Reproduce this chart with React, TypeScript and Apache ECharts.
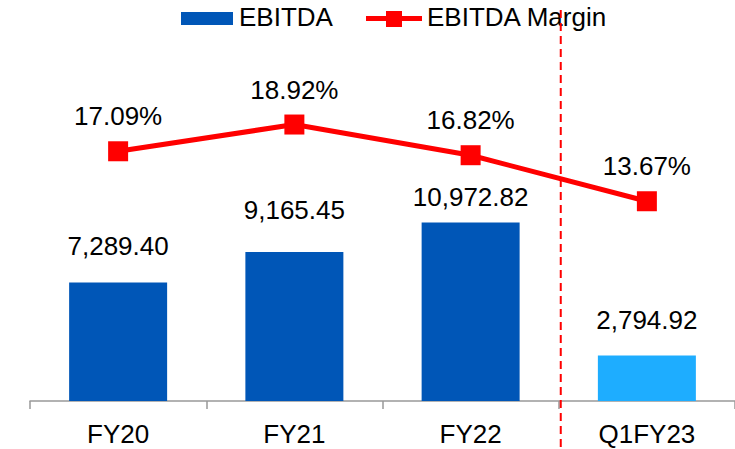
import React, { useEffect, useRef } from "react";
import * as echarts from "echarts";

const categories = ["FY20", "FY21", "FY22", "Q1FY23"];
const ebitda = [7289.4, 9165.45, 10972.82, 2794.92];
const ebitdaMargin = [17.09, 18.92, 16.82, 13.67];
const legendNames = ["EBITDA", "EBITDA Margin"];

const DARK_BLUE = "#0056B7";
const LIGHT_BLUE = "#1EADFF";
const RED = "#FF0000";
const FONT = "'Liberation Sans', Arial, sans-serif";

export default function App() {
  const ref = useRef<HTMLDivElement>(null);

  useEffect(() => {
    document.body.style.margin = "0";
    if (!ref.current) return;
    const chart = echarts.init(ref.current, undefined, { renderer: "svg" });

    const gridLeft = 30;
    const gridWidth = 713;
    const gridTop = 101;
    const gridHeight = 300;
    const catW = gridWidth / categories.length;
    const barLabelGap = [23, 29, 13, 23];

    chart.setOption({
      animation: false,
      textStyle: { fontFamily: FONT },
      grid: {
        left: gridLeft,
        top: gridTop,
        width: gridWidth,
        height: gridHeight,
      },
      xAxis: {
        type: "category",
        data: categories,
        boundaryGap: true,
        axisLine: { show: true, lineStyle: { color: "#999999", width: 1.5 } },
        axisTick: { show: true, length: 8, lineStyle: { color: "#999999", width: 1.5 } },
        axisLabel: { color: "#000", fontSize: 26, fontFamily: FONT, margin: 20 },
      },
      yAxis: [
        { type: "value", min: 0, max: 18450, show: false, splitLine: { show: false } },
        { type: "value", min: 0, max: 20.53, show: false, splitLine: { show: false } },
      ],
      series: [
        {
          name: legendNames[0],
          type: "bar",
          yAxisIndex: 0,
          barWidth: 98,
          data: ebitda.map((v, i) => ({
            value: v,
            itemStyle: { color: i === ebitda.length - 1 ? LIGHT_BLUE : DARK_BLUE },
            label: { distance: barLabelGap[i] },
          })),
          label: {
            show: true,
            position: "top",
            color: "#000",
            fontSize: 26,
            fontFamily: FONT,
            formatter: (p: any) =>
              Number(p.value).toLocaleString("en-US", {
                minimumFractionDigits: 2,
                maximumFractionDigits: 2,
              }),
          },
        },
        {
          name: legendNames[1],
          type: "line",
          yAxisIndex: 1,
          data: ebitdaMargin,
          symbol: "rect",
          symbolSize: 20,
          lineStyle: { color: RED, width: 5 },
          itemStyle: { color: RED },
          label: {
            show: true,
            position: "top",
            distance: 12,
            color: "#000",
            fontSize: 26,
            fontFamily: FONT,
            formatter: (p: any) => Number(p.value).toFixed(2) + "%",
          },
          z: 5,
        },
      ],
      graphic: [
        {
          type: "line",
          shape: {
            x1: gridLeft + catW * 3 - 4,
            y1: 10,
            x2: gridLeft + catW * 3 - 4,
            y2: 449,
          },
          style: { stroke: RED, lineWidth: 2, lineDash: [8, 5] },
          z: 10,
        },
        {
          type: "rect",
          shape: { x: 181, y: 12, width: 52, height: 13 },
          style: { fill: DARK_BLUE },
        },
        {
          type: "text",
          x: 239,
          y: 17,
          style: {
            text: legendNames[0],
            fontSize: 26,
            fontFamily: FONT,
            fill: "#000",
            verticalAlign: "middle",
          },
        },
        {
          type: "line",
          shape: { x1: 366, y1: 18.5, x2: 422, y2: 18.5 },
          style: { stroke: RED, lineWidth: 5 },
        },
        {
          type: "rect",
          shape: { x: 386, y: 11, width: 16, height: 16 },
          style: { fill: RED },
        },
        {
          type: "text",
          x: 427,
          y: 17,
          style: {
            text: legendNames[1],
            fontSize: 26,
            fontFamily: FONT,
            fill: "#000",
            verticalAlign: "middle",
          },
        },
      ],
    });

    return () => chart.dispose();
  }, []);

  return <div ref={ref} style={{ width: 735, height: 449 }} />;
}
